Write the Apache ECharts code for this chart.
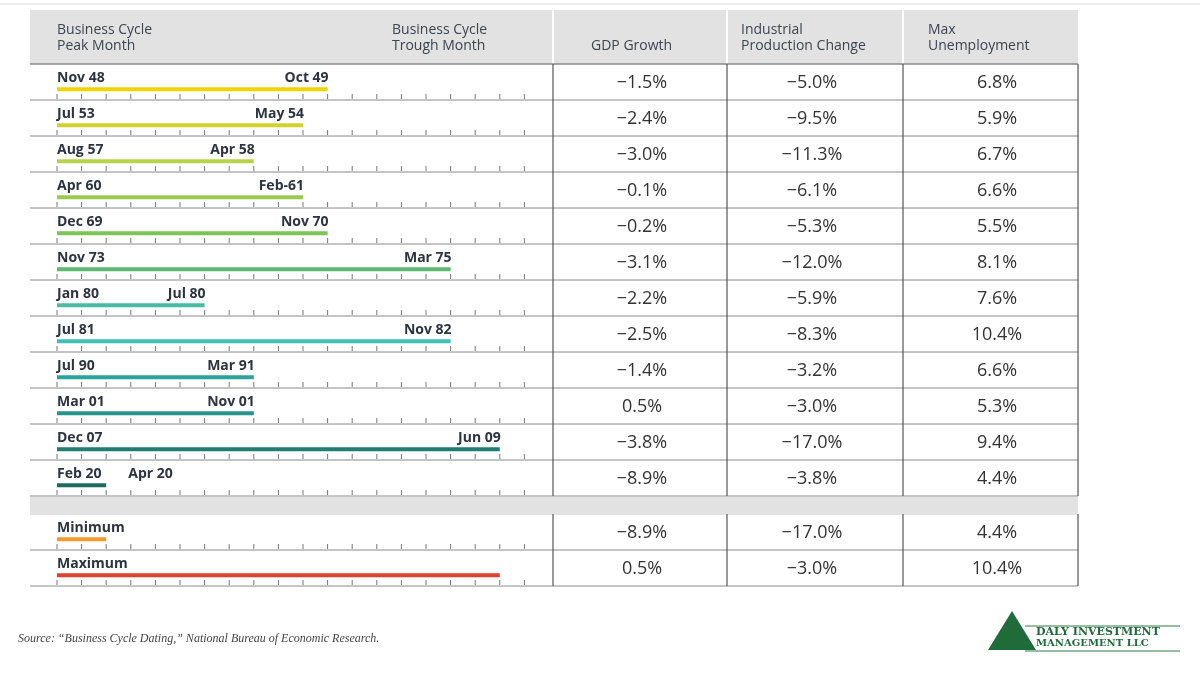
<!DOCTYPE html><html><head><meta charset="utf-8">
<script src="https://cdn.jsdelivr.net/npm/echarts@6/dist/echarts.min.js"></script>
<style>html,body{margin:0;background:#fff}#c{width:1200px;height:675px}</style></head><body><div id="c"></div>
<script>
const peaks=['Nov 48','Jul 53','Aug 57','Apr 60','Dec 69','Nov 73','Jan 80','Jul 81','Jul 90','Mar 01','Dec 07','Feb 20'];
const troughs=['Oct 49','May 54','Apr 58','Feb-61','Nov 70','Mar 75','Jul 80','Nov 82','Mar 91','Nov 01','Jun 09','Apr 20'];
const months=[11,10,8,10,11,16,6,16,8,8,18,2];
const gdp=[-1.5,-2.4,-3.0,-0.1,-0.2,-3.1,-2.2,-2.5,-1.4,0.5,-3.8,-8.9];
const ip=[-5.0,-9.5,-11.3,-6.1,-5.3,-12.0,-5.9,-8.3,-3.2,-3.0,-17.0,-3.8];
const unemp=[6.8,5.9,6.7,6.6,5.5,8.1,7.6,10.4,6.6,5.3,9.4,4.4];
const barColors=['#eed500','#d3d22c','#b8d446','#9acb4e','#7cc35a','#5db873','#47bca4','#3ec1b4','#2aa39a','#27938b','#217d72','#1e6a5e'];
const summaryNames=['Minimum','Maximum'];
const summaryColors=['#f29a2e','#e0402e'];

const mn=a=>Math.min(...a), mx=a=>Math.max(...a);
const fmt=v=>(v<0?'\u2212':'')+Math.abs(v).toFixed(1)+'%';
const rows=[];
peaks.forEach((p,i)=>rows.push({top:i,name:p,trough:troughs[i],m:months[i],color:barColors[i],vals:[gdp[i],ip[i],unemp[i]]}));
rows.push({top:12.5,name:summaryNames[0],trough:'',m:mn(months),color:summaryColors[0],vals:[mn(gdp),mn(ip),mn(unemp)]});
rows.push({top:13.5,name:summaryNames[1],trough:'',m:mx(months),color:summaryColors[1],vals:[mx(gdp),mx(ip),mx(unemp)]});

const ink='#2b3440', font='"Open Sans", sans-serif';
const lab='bold 14px '+font;
const barSeries={type:'custom',xAxisIndex:0,yAxisIndex:0,data:rows.map((r,i)=>[r.top,r.m,i]),
 renderItem:(params,api)=>{
  const r=rows[api.value(2)], t=api.value(0), m=api.value(1);
  const ch=[];
  const p0=api.coord([0,t+0.7]), p1=api.coord([m,t+0.7]);
  ch.push({type:'rect',shape:{x:p0[0],y:p0[1]-2,width:p1[0]-p0[0],height:4},style:{fill:r.color}});
  const ty=api.coord([0,t+0.38])[1];
  ch.push({type:'text',style:{text:r.name,x:p0[0],y:ty,fill:ink,font:lab,textVerticalAlign:'middle'}});
  if(r.trough){
   if(m<4){const q=api.coord([2.9,0]);ch.push({type:'text',style:{text:r.trough,x:q[0],y:ty,fill:ink,font:lab,textVerticalAlign:'middle'}});}
   else ch.push({type:'text',style:{text:r.trough,x:p1[0]+1,y:ty,fill:ink,font:lab,textAlign:'right',textVerticalAlign:'middle'}});
  }
  const yb=api.coord([0,t+1])[1];
  for(let k=0;k<=19;k++){const x=api.coord([k,0])[0];ch.push({type:'line',shape:{x1:x,y1:yb-1,x2:x,y2:yb-6},style:{stroke:'#777',lineWidth:1}});}
  return {type:'group',children:ch};
 }};
const colX=[523,697,873,1048], valX=[612,782,967];
const tableSeries={type:'custom',xAxisIndex:1,yAxisIndex:1,data:rows.map((r,i)=>[r.top,i]),
 renderItem:(params,api)=>{
  const r=rows[api.value(1)], t=api.value(0);const ch=[];
  const yt=api.coord([0,t])[1], yb=api.coord([0,t+1])[1], ym=(yt+yb)/2+1;
  const xl=api.coord([0,0])[0], xr=api.coord([1048,0])[0];
  ch.push({type:'line',shape:{x1:xl,y1:yb,x2:xr,y2:yb},style:{stroke:'#8a8a8a',lineWidth:1}});
  colX.forEach(c=>{const x=api.coord([c,0])[0];ch.push({type:'line',shape:{x1:x,y1:yt,x2:x,y2:yb},style:{stroke:'#555',lineWidth:1.2}});});
  r.vals.forEach((v,j)=>{const x=api.coord([valX[j],0])[0];ch.push({type:'text',style:{text:j==2?v.toFixed(1)+'%':fmt(v),x:x,y:ym,fill:'#333',font:'18px '+font,textAlign:'center',textVerticalAlign:'middle'}});});
  return {type:'group',children:ch};
 }};

const hdr=(t,x,y)=>({type:'text',left:x,top:y,style:{text:t,fill:'#3a4550',font:'14px '+font,lineHeight:16}});
const option={animation:false,
 grid:[{left:57,width:19*24.6,top:64,height:522},{left:30,width:1048,top:64,height:522}],
 xAxis:[{type:'value',min:0,max:19,show:false,gridIndex:0},{type:'value',min:0,max:1048,show:false,gridIndex:1}],
 yAxis:[{type:'value',min:0,max:14.5,inverse:true,show:false,gridIndex:0},{type:'value',min:0,max:14.5,inverse:true,show:false,gridIndex:1}],
 graphic:[
  {type:'line',shape:{x1:0,y1:4,x2:1200,y2:4},style:{stroke:'#ddd',lineWidth:1}},
  {type:'rect',shape:{x:30,y:10,width:1048,height:54},style:{fill:'#e2e2e2'},z:-1},
  {type:'rect',shape:{x:30,y:497,width:1048,height:18},style:{fill:'#e2e2e2'},z:-1},
  {type:'line',shape:{x1:553,y1:10,x2:553,y2:64},style:{stroke:'#fff',lineWidth:2}},
  {type:'line',shape:{x1:727,y1:10,x2:727,y2:64},style:{stroke:'#fff',lineWidth:2}},
  {type:'line',shape:{x1:903,y1:10,x2:903,y2:64},style:{stroke:'#fff',lineWidth:2}},
  {type:'line',shape:{x1:30,y1:64,x2:1078,y2:64},style:{stroke:'#8a8a8a',lineWidth:1.5}},
  hdr('Business Cycle\nPeak Month',57,22),hdr('Business Cycle\nTrough Month',392,22),
  hdr('GDP Growth',591,38),hdr('Industrial\nProduction Change',741,22),hdr('Max\nUnemployment',928,22),
  {type:'text',left:18,top:633,style:{text:'Source: \u201cBusiness Cycle Dating,\u201d National Bureau of Economic Research.',fill:'#444',font:'italic 12px "Liberation Serif", serif'}},
  {type:'polygon',shape:{points:[[988,650],[1012,611],[1036,650]]},style:{fill:'#1f6b3a'}},
  {type:'line',shape:{x1:1025,y1:626,x2:1180,y2:626},style:{stroke:'#2e7a46',lineWidth:1}},
  {type:'line',shape:{x1:1025,y1:651,x2:1180,y2:651},style:{stroke:'#2e7a46',lineWidth:1}},
  {type:'text',left:1036,top:627,style:{text:'DALY INVESTMENT',fill:'#1f6b3a',font:'bold 11px "DejaVu Serif", serif'}},
  {type:'text',left:1036,top:638,style:{text:'MANAGEMENT LLC',fill:'#1f6b3a',font:'bold 10px "DejaVu Serif", serif'}}
 ],
 series:[barSeries,tableSeries]};
echarts.init(document.getElementById('c')).setOption(option);
</script></body></html>
